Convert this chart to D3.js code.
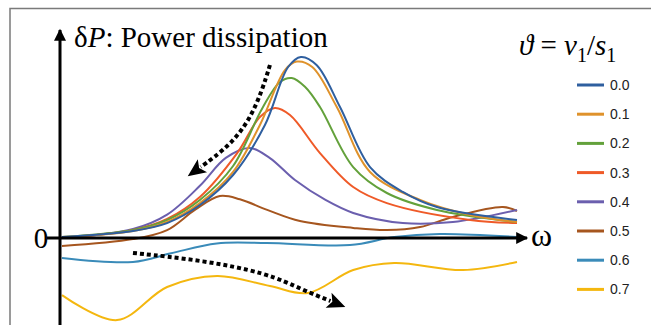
<!DOCTYPE html>
<html>
<head>
<meta charset="utf-8">
<script src="https://cdn.jsdelivr.net/npm/d3@7"></script>
<style>
  body { margin: 0; background: #fff; }
  svg { display: block; }
</style>
</head>
<body>
<div id="chart"></div>
<script>
// theta values, one curve per value
var thetas = ["0.0", "0.1", "0.2", "0.3", "0.4", "0.5", "0.6", "0.7"];
var colors = ["#2f5f9f", "#df922b", "#63a13b", "#ef5a28", "#6b5fae", "#a6561f", "#3a8bb9", "#f4b70f"];

// [omega, deltaP]
var curve00 = [[0,0.05],[1.56,0.39],[2.31,0.83],[3.03,1.83],[3.76,3.5],[4.46,6.28],[4.97,9.5],[5.25,10.06],[5.6,9.6],[6.11,7.28],[6.77,3.94],[7.49,2.56],[8.24,1.72],[10,1.0]];
var curve01 = [[0,0.05],[1.56,0.39],[2.31,0.89],[3.03,1.94],[3.76,3.67],[4.35,6.28],[4.9,9.33],[5.16,9.8],[5.5,9.5],[6.04,7.28],[6.77,3.67],[7.87,2.11],[8.97,1.28],[10,0.89]];
var curve02 = [[0,0.05],[1.56,0.44],[2.31,1.0],[3.03,2.11],[3.76,4.0],[4.4,7.2],[4.79,8.67],[5.05,8.89],[5.34,8.4],[5.67,7.28],[6.4,3.94],[7.14,2.5],[8.24,1.56],[10,0.89]];
var curve03 = [[0,0],[1.56,0.44],[2.31,1.06],[3.03,2.28],[3.85,4.72],[4.35,6.72],[4.68,7.22],[5.01,6.83],[5.67,4.72],[6.4,2.83],[7.14,1.94],[8.97,1.0],[10,0.83]];
var curve04 = [[0,0],[1.56,0.5],[2.31,1.3],[3.03,2.9],[3.6,4.45],[4.13,5.0],[4.57,4.44],[5.12,3.22],[5.8,2.1],[6.4,1.39],[7.49,0.83],[8.59,0.89],[10,1.56]];
var curve05 = [[0,-0.44],[1.56,-0.06],[2.31,0.44],[2.92,1.56],[3.47,2.33],[3.91,2.15],[4.51,1.56],[5.23,0.94],[6.4,0.56],[7.14,0.44],[7.87,0.61],[8.59,1.17],[9.69,1.72],[10,1.5]];
var curve06 = [[0,-1.11],[1.56,-1.33],[2.4,-0.85],[3.4,-0.3],[4.5,-0.28],[6.33,-0.39],[7.3,0.05],[8.3,0.22],[10,0.06]];
var curve07 = [[0,-3.17],[1.21,-4.56],[2.31,-2.72],[3.41,-2.11],[4.57,-2.67],[5.4,-3.06],[6.4,-1.78],[7.3,-1.39],[8.81,-1.78],[10,-1.33]];
var curves = [curve00, curve01, curve02, curve03, curve04, curve05, curve06, curve07];

// dotted guide arrows, same units
var arrowUp = [[4.57,9.61],[4.4,8.2],[4.13,6.6],[3.74,5.3],[3.3,4.4],[3.05,3.95]];
var arrowDown = [[1.56,-0.83],[3.03,-1.22],[4.51,-1.94],[5.3,-2.9],[5.9,-3.5]];

var width = 651, height = 325;

var svg = d3.select('#chart')
    .append('svg')
    .attr('width', width)
    .attr('height', height);

var x_scale = d3.scaleLinear().domain([0, 10]).range([62, 517]);
var y_scale = d3.scaleLinear().domain([0, 10]).range([238, 58]);

var serif = '"Liberation Serif", "Times New Roman", serif';
var sans = '"Liberation Sans", Arial, sans-serif';

// frame
svg.append('path')
    .attr('d', 'M10,' + height + 'V8.5H' + width)
    .attr('fill', 'none')
    .attr('stroke', '#7a7a7a')
    .attr('stroke-width', 1.5);

var defs = svg.append('defs');
defs.append('marker')
    .attr('id', 'tip')
    .attr('viewBox', '0 0 10 10')
    .attr('refX', 9).attr('refY', 5)
    .attr('markerWidth', 4.5).attr('markerHeight', 4)
    .attr('markerUnits', 'strokeWidth')
    .attr('orient', 'auto')
    .append('path')
    .attr('d', 'M0,0L10,5L0,10z')
    .attr('fill', '#000');

// curves
var line = d3.line()
    .x(function(d) { return x_scale(d[0]); })
    .y(function(d) { return y_scale(d[1]); })
    .curve(d3.curveCatmullRom.alpha(0.5));

svg.append('g').selectAll('path')
    .data(curves.slice().reverse())
    .enter()
    .append('path')
    .attr('fill', 'none')
    .attr('stroke', function(d, i) { return colors[curves.length - 1 - i]; })
    .attr('stroke-width', 2)
    .attr('d', line);

// axes with arrows
var axis_x0 = 60;
svg.append('line')
    .attr('x1', axis_x0).attr('x2', axis_x0)
    .attr('y1', height).attr('y2', 30)
    .attr('stroke', '#000').attr('stroke-width', 3)
    .attr('marker-end', 'url(#tip)');

svg.append('line')
    .attr('x1', 47).attr('x2', 527)
    .attr('y1', y_scale(0)).attr('y2', y_scale(0))
    .attr('stroke', '#000').attr('stroke-width', 3)
    .attr('marker-end', 'url(#tip)');

svg.append('text')
    .attr('x', 41).attr('y', y_scale(0) + 10)
    .attr('text-anchor', 'middle')
    .style('font-family', serif)
    .style('font-size', '29px')
    .text('0');

svg.append('text')
    .attr('x', 531).attr('y', y_scale(0) + 8)
    .style('font-family', serif)
    .style('font-size', '32px')
    .text('\u03c9');

// title
var title = svg.append('text')
    .attr('x', 74).attr('y', 47)
    .style('font-family', serif)
    .style('font-size', '29px');
title.append('tspan').text('\u03b4');
title.append('tspan').style('font-style', 'italic').text('P');
title.append('tspan').text(': Power dissipation');

// dotted guides
var guide = d3.line()
    .x(function(d) { return x_scale(d[0]); })
    .y(function(d) { return y_scale(d[1]); })
    .curve(d3.curveBasis);

[arrowUp, arrowDown].forEach(function(pts) {
    svg.append('path')
        .datum(pts)
        .attr('fill', 'none')
        .attr('stroke', '#000')
        .attr('stroke-width', 4)
        .attr('stroke-dasharray', '4,3')
        .attr('d', guide);
    var a = pts[pts.length - 2], b = pts[pts.length - 1];
    var ax = x_scale(a[0]), ay = y_scale(a[1]), bx = x_scale(b[0]), by = y_scale(b[1]);
    var ang = Math.atan2(by - ay, bx - ax) * 180 / Math.PI;
    svg.append('path')
        .attr('d', 'M16,0L-2,-8L2,0L-2,8z')
        .attr('fill', '#000')
        .attr('transform', 'translate(' + bx + ',' + by + ') rotate(' + ang + ')');
});

// legend
var legendTitle = svg.append('text')
    .attr('x', 519).attr('y', 55)
    .style('font-family', serif)
    .style('font-size', '29px');
legendTitle.append('tspan').style('font-style', 'italic').text('\u03d1');
legendTitle.append('tspan').text(' = ');
legendTitle.append('tspan').style('font-style', 'italic').text('\u03bd');
legendTitle.append('tspan').attr('dy', 7).style('font-size', '20px').text('1');
legendTitle.append('tspan').attr('dy', -7).text('/');
legendTitle.append('tspan').style('font-style', 'italic').text('s');
legendTitle.append('tspan').attr('dy', 7).style('font-size', '20px').text('1');

var legend = svg.append('g').attr('class', 'legend');
var rows = legend.selectAll('g')
    .data(thetas)
    .enter()
    .append('g')
    .attr('transform', function(d, i) { return 'translate(0,' + (85 + i * 29.2) + ')'; });

rows.append('line')
    .attr('x1', 577).attr('x2', 604)
    .attr('stroke', function(d, i) { return colors[i]; })
    .attr('stroke-width', 3);

rows.append('text')
    .attr('x', 610).attr('y', 5)
    .style('font-family', sans)
    .style('font-size', '14px')
    .style('fill', '#222')
    .text(function(d) { return d; });
</script>
</body>
</html>
